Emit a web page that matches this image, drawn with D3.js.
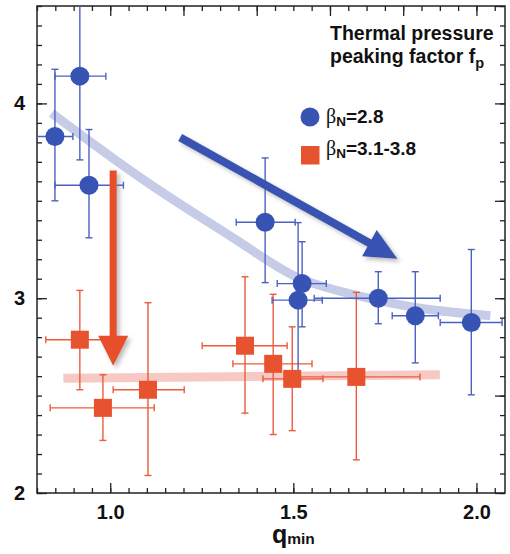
<!DOCTYPE html>
<html>
<head>
<meta charset="utf-8">
<script src="https://cdn.jsdelivr.net/npm/d3@7"></script>
<style>
    body { margin: 0; background: #fff; }
    svg { display: block; }
    .tick text { font-family: "Liberation Sans Narrow", "Arial Narrow", "Liberation Sans", sans-serif; font-weight: bold; font-size: 20px; fill: #111; }
    .tick line { stroke: #222; stroke-width: 1.3; }
</style>
</head>
<body>
<svg id="chart"></svg>
<script>
// blue circles, beta_N = 2.8
const blueQ    = [0.849, 0.917, 0.942, 1.423, 1.524, 1.513, 1.732, 1.833, 1.986];
const blueFp   = [3.83, 4.14, 3.58, 3.39, 3.075, 2.99, 3.00, 2.91, 2.875];
const blueQLo  = [0.79, 0.849, 0.849, 1.344, 1.456, 1.442, 1.557, 1.770, 1.901];
const blueQHi  = [0.898, 0.988, 1.036, 1.505, 1.590, 1.579, 1.901, 1.896, 2.07];
const blueFpLo = [3.50, 3.71, 3.31, 3.08, 2.853, 2.58, 2.869, 2.668, 2.504];
const blueFpHi = [4.175, 4.60, 3.866, 3.72, 3.29, 3.388, 3.136, 3.136, 3.25];

// red squares, beta_N = 3.1-3.8
const redQ    = [0.917, 0.980, 1.103, 1.368, 1.445, 1.497, 1.672];
const redFp   = [2.787, 2.437, 2.53, 2.756, 2.663, 2.586, 2.596];
const redQLo  = [0.824, 0.836, 1.008, 1.251, 1.335, 1.417, 1.50];
const redQHi  = [1.01, 1.12, 1.202, 1.483, 1.551, 1.581, 1.846];
const redFpLo = [2.53, 2.27, 2.09, 2.41, 2.30, 2.32, 2.17];
const redFpHi = [3.04, 2.607, 2.977, 3.11, 3.02, 2.853, 3.03];

// trend bands
const blueBandQ  = [0.84, 1.109, 1.382, 1.499, 1.674, 1.827, 2.038];
const blueBandFp = [3.95, 3.573, 3.26, 3.095, 3.013, 2.946, 2.91];
const redBandQ  = [0.872, 1.90];
const redBandFp = [2.589, 2.607];

// arrows [q0, fp0, q1, fp1]
const blueArrow = [1.191, 3.825, 1.784, 3.203];
const redArrow  = [1.008, 3.656, 1.008, 2.653];

const xMinor = d3.range(0.8, 2.0751, 0.05);
const xMajorBottom = [1.0, 1.5, 2.0];
const xMajorTop = [1.0, 1.2, 1.4, 1.6, 1.8, 2.0];
const yMinor = d3.range(2.0, 4.501, 0.1);
const yMajorLeft = [2, 3, 4];
const yMajorRight = [2, 2.5, 3, 3.5, 4, 4.5];

const width = 510;
const height = 554;
const pLeft = 37, pRight = 505, pTop = 6, pBottom = 493;

const blue = "#3754b5";
const blueLine = "#4b61c2";
const red = "#e8532f";
const redLine = "#ec5b3b";

let svg = d3.select("#chart").attr("width", width).attr("height", height);

let x = d3.scaleLinear().domain([0.8, 2.078]).range([pLeft, pRight]);
let y = d3.scaleLinear().domain([2, 4.5]).range([pBottom, pTop]);

let defs = svg.append("defs");
defs.append("clipPath").attr("id", "plot")
    .append("rect")
    .attr("x", pLeft).attr("y", pTop)
    .attr("width", pRight - pLeft).attr("height", pBottom - pTop);
defs.append("filter").attr("id", "shadow")
    .attr("x", "-20%").attr("y", "-20%").attr("width", "150%").attr("height", "150%")
    .append("feDropShadow")
    .attr("dx", 3).attr("dy", 3).attr("stdDeviation", 2)
    .attr("flood-color", "#888").attr("flood-opacity", 0.55);

// axes: ticks point inward on all four sides
function tickAxis(axis, vals, size, labels) {
    return axis.tickValues(vals).tickSize(-size).tickSizeOuter(0)
        .tickFormat(labels ? d3.format(labels) : "");
}

svg.append("g").attr("transform", `translate(0,${pBottom})`)
    .call(tickAxis(d3.axisBottom(x), xMinor, 5));
svg.append("g").attr("transform", `translate(0,${pBottom})`)
    .call(tickAxis(d3.axisBottom(x), xMajorBottom, 10, ".1f").tickPadding(12));
svg.append("g").attr("transform", `translate(0,${pTop})`)
    .call(tickAxis(d3.axisTop(x), xMinor, 5));
svg.append("g").attr("transform", `translate(0,${pTop})`)
    .call(tickAxis(d3.axisTop(x), xMajorTop, 10));
svg.append("g").attr("transform", `translate(${pLeft},0)`)
    .call(tickAxis(d3.axisLeft(y), yMinor, 5));
svg.append("g").attr("transform", `translate(${pLeft},0)`)
    .call(tickAxis(d3.axisLeft(y), yMajorLeft, 10, "d").tickPadding(12));
svg.append("g").attr("transform", `translate(${pRight},0)`)
    .call(tickAxis(d3.axisRight(y), yMinor, 5));
svg.append("g").attr("transform", `translate(${pRight},0)`)
    .call(tickAxis(d3.axisRight(y), yMajorRight, 10));
svg.selectAll(".domain").remove();

svg.append("rect")
    .attr("x", pLeft).attr("y", pTop)
    .attr("width", pRight - pLeft).attr("height", pBottom - pTop)
    .attr("fill", "none").attr("stroke", "#222").attr("stroke-width", 1.5);

let plot = svg.append("g").attr("clip-path", "url(#plot)");

// trend bands
let band = d3.line().x((d) => x(d[0])).y((d) => y(d[1])).curve(d3.curveBasis);
plot.append("path")
    .attr("d", band(d3.zip(blueBandQ, blueBandFp)))
    .attr("fill", "none").attr("stroke", "#c6cbe8").attr("stroke-width", 9)
    .attr("stroke-linecap", "butt");
plot.append("path")
    .attr("d", band(d3.zip(redBandQ, redBandFp)))
    .attr("fill", "none").attr("stroke", "#f6c9c4").attr("stroke-width", 9);

function errorBars(q, fp, qLo, qHi, fpLo, fpHi, color) {
    const cap = 3.5;
    let g = plot.append("g").attr("stroke", color).attr("stroke-width", 1.4).attr("fill", "none");
    q.forEach((d, i) => {
        g.append("line").attr("x1", x(qLo[i])).attr("x2", x(qHi[i])).attr("y1", y(fp[i])).attr("y2", y(fp[i]));
        g.append("line").attr("x1", x(d)).attr("x2", x(d)).attr("y1", y(fpLo[i])).attr("y2", y(fpHi[i]));
        [qLo[i], qHi[i]].forEach((v) => {
            g.append("line").attr("x1", x(v)).attr("x2", x(v))
                .attr("y1", y(fp[i]) - cap).attr("y2", y(fp[i]) + cap);
        });
        [fpLo[i], fpHi[i]].forEach((v) => {
            g.append("line").attr("x1", x(d) - cap).attr("x2", x(d) + cap)
                .attr("y1", y(v)).attr("y2", y(v));
        });
    });
}

errorBars(redQ, redFp, redQLo, redQHi, redFpLo, redFpHi, redLine);
errorBars(blueQ, blueFp, blueQLo, blueQHi, blueFpLo, blueFpHi, blueLine);

plot.selectAll(".sq")
    .data(d3.zip(redQ, redFp))
    .enter()
    .append("rect")
    .attr("x", (d) => x(d[0]) - 9)
    .attr("y", (d) => y(d[1]) - 9)
    .attr("width", 18).attr("height", 18)
    .attr("fill", red);

plot.selectAll(".dot")
    .data(d3.zip(blueQ, blueFp))
    .enter()
    .append("circle")
    .attr("cx", (d) => x(d[0]))
    .attr("cy", (d) => y(d[1]))
    .attr("r", 9.5)
    .attr("fill", blue);

// arrows with a soft shadow
function arrow(a, color, shaft, headLen, headHalf) {
    let x0 = x(a[0]), y0 = y(a[1]), x1 = x(a[2]), y1 = y(a[3]);
    let ang = Math.atan2(y1 - y0, x1 - x0);
    let bx = x1 - headLen * Math.cos(ang), by = y1 - headLen * Math.sin(ang);
    let nx = -Math.sin(ang), ny = Math.cos(ang);
    let g = svg.append("g").attr("filter", "url(#shadow)");
    g.append("line")
        .attr("x1", x0).attr("y1", y0).attr("x2", bx + 2 * Math.cos(ang)).attr("y2", by + 2 * Math.sin(ang))
        .attr("stroke", color).attr("stroke-width", shaft);
    g.append("path")
        .attr("d", `M${x1},${y1}L${bx + nx * headHalf},${by + ny * headHalf}L${bx - nx * headHalf},${by - ny * headHalf}Z`)
        .attr("fill", color);
}
arrow(blueArrow, "#3753b2", 8, 32, 15);
arrow(redArrow, "#e6502c", 7, 30, 15);

// legend
const font = "'Liberation Sans', Arial, sans-serif";
let title = svg.append("text").attr("x", 330).attr("y", 40)
    .attr("font-family", font).attr("font-weight", "bold").attr("font-size", 19.5).attr("fill", "#111");
title.text("Thermal pressure");
let title2 = svg.append("text").attr("x", 330).attr("y", 63)
    .attr("font-family", font).attr("font-weight", "bold").attr("font-size", 19.5).attr("fill", "#111");
title2.append("tspan").text("peaking factor f");
title2.append("tspan").attr("dy", 5).attr("font-size", 14.5).text("p");

svg.append("circle").attr("cx", 310).attr("cy", 117).attr("r", 9.5).attr("fill", blue);
svg.append("rect").attr("x", 301).attr("y", 146).attr("width", 18.5).attr("height", 18.5).attr("fill", red);

function betaLabel(yb, val) {
    let t = svg.append("text").attr("x", 326).attr("y", yb)
        .attr("font-family", font).attr("font-size", 19).attr("fill", "#111");
    t.append("tspan").attr("font-family", "'Liberation Serif', 'DejaVu Serif', serif").attr("font-size", 20).text("β");
    t.append("tspan").attr("dy", 3).attr("font-size", 13.5).attr("font-weight", "bold").text("N");
    t.append("tspan").attr("dy", -3).attr("font-weight", "bold").text("=" + val);
}
betaLabel(123, "2.8");
betaLabel(155, "3.1-3.8");

// x axis title
let xt = svg.append("text").attr("x", 272).attr("y", 543)
    .attr("font-family", font).attr("font-weight", "bold").attr("font-size", 25).attr("fill", "#111");
xt.append("tspan").text("q");
xt.append("tspan").attr("dy", 1).attr("font-size", 15.5).text("min");
</script>
</body>
</html>
